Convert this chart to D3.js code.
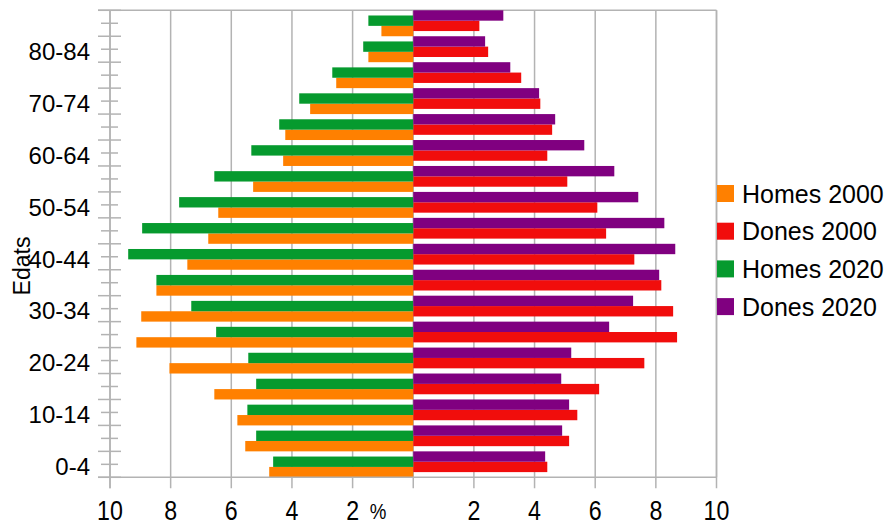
<!DOCTYPE html>
<html>
<head>
<meta charset="utf-8">
<script src="https://cdn.jsdelivr.net/npm/d3@7"></script>
<style>
  html, body { margin: 0; padding: 0; background: #fff; }
  svg { display: block; font-family: "Liberation Sans", Arial, sans-serif; }
</style>
</head>
<body>
<svg id="chart" width="888" height="526"></svg>
<script>
// Age groups, youngest first
const ageGroups = ["0-4","5-9","10-14","15-19","20-24","25-29","30-34","35-39","40-44",
                   "45-49","50-54","55-59","60-64","65-69","70-74","75-79","80-84","85+"];

// Share of population (%) per age group
const homes2000 = [4.75,5.54,5.80,6.56,8.04,9.13,8.97,8.47,7.45,6.76,6.43,5.28,4.29,4.22,3.40,2.54,1.48,1.05];
const dones2000 = [4.42,5.14,5.41,6.13,7.62,8.70,8.57,8.18,7.29,6.36,6.07,5.08,4.42,4.58,4.19,3.56,2.47,2.18];
const homes2020 = [4.62,5.18,5.47,5.18,5.44,6.50,7.32,8.47,9.40,8.94,7.72,6.56,5.34,4.42,3.76,2.67,1.65,1.48];
const dones2020 = [4.35,4.91,5.14,4.88,5.21,6.46,7.25,8.11,8.64,8.28,7.42,6.63,5.64,4.68,4.15,3.20,2.37,2.97];

const xTicks = [-10,-8,-6,-4,-2,0,2,4,6,8,10];
const labeledGroups = ["0-4","10-14","20-24","30-34","40-44","50-54","60-64","70-74","80-84"];

// Series: sign puts men on the left; slot is the offset (in fifths of a band) from the band top
const series = [
  { name: "Homes 2000", values: homes2000, sign: -1, slot: 3, color: "#ff8000" },
  { name: "Dones 2000", values: dones2000, sign:  1, slot: 2, color: "#f10d0c" },
  { name: "Homes 2020", values: homes2020, sign: -1, slot: 1, color: "#069a2e" },
  { name: "Dones 2020", values: dones2020, sign:  1, slot: 0, color: "#800080" }
];

const svg = d3.select("#chart");
const plotLeft = 110, plotRight = 716.5, plotTop = 10.3, plotBottom = 477.3;
const gridColor = "#b3b3b3";

const x = d3.scaleLinear().domain([-10, 10]).range([plotLeft, plotRight]);
const y = d3.scaleBand().domain(ageGroups.slice().reverse()).range([plotTop, plotBottom]).padding(0);
const bw = y.bandwidth();
const sub = bw / 5;

// vertical grid lines, extended down as tick marks
svg.append("g").selectAll("line").data(xTicks).join("line")
  .attr("x1", d => x(d)).attr("x2", d => x(d))
  .attr("y1", plotTop).attr("y2", plotBottom + 11)
  .attr("stroke", gridColor).attr("stroke-width", 1.5);

// frame: top and right
svg.append("line").attr("x1", plotLeft - 12).attr("x2", plotRight).attr("y1", plotTop).attr("y2", plotTop)
  .attr("stroke", gridColor).attr("stroke-width", 1.5);
svg.append("line").attr("x1", plotRight).attr("x2", plotRight).attr("y1", plotTop).attr("y2", plotBottom)
  .attr("stroke", gridColor).attr("stroke-width", 1.5);

// bars
series.forEach(s => {
  svg.append("g").selectAll("rect").data(s.values).join("rect")
    .attr("x", d => s.sign < 0 ? x(-d) : x(0))
    .attr("width", d => Math.abs(x(d) - x(0)))
    .attr("y", (d, i) => y(ageGroups[i]) + s.slot * sub)
    .attr("height", 2 * sub)
    .attr("fill", s.color);
});

// y axis line and ticks (long at band edges, short at band centres)
const edges = ageGroups.map(g => y(g)).concat([y(ageGroups[0]) + bw]);
svg.append("g").selectAll("line").data(edges).join("line")
  .attr("x1", plotLeft - 12).attr("x2", plotLeft + 11)
  .attr("y1", d => d).attr("y2", d => d)
  .attr("stroke", gridColor).attr("stroke-width", 1.5);
svg.append("g").selectAll("line").data(ageGroups).join("line")
  .attr("x1", plotLeft - 9).attr("x2", plotLeft + 8)
  .attr("y1", d => y(d) + bw / 2).attr("y2", d => y(d) + bw / 2)
  .attr("stroke", gridColor).attr("stroke-width", 1.5);
svg.append("line").attr("x1", plotLeft).attr("x2", plotLeft).attr("y1", plotTop).attr("y2", plotBottom + 11)
  .attr("stroke", gridColor).attr("stroke-width", 1.5);
svg.append("line").attr("x1", plotLeft - 12).attr("x2", plotRight).attr("y1", plotBottom).attr("y2", plotBottom)
  .attr("stroke", gridColor).attr("stroke-width", 1.5);

// y tick labels
svg.append("g").selectAll("text").data(labeledGroups).join("text")
  .attr("x", 90).attr("y", d => y(d) + bw / 2)
  .attr("dy", "0.45em")
  .attr("text-anchor", "end")
  .attr("font-size", 24)
  .attr("fill", "#000")
  .text(d => d);

// x tick labels (absolute values, zero left blank)
svg.append("g").selectAll("text").data(xTicks.filter(d => d !== 0)).join("text")
  .attr("transform", d => `translate(${x(d)},520) scale(0.86,1)`)
  .attr("text-anchor", "middle")
  .attr("font-size", 27)
  .attr("fill", "#000")
  .text(d => Math.abs(d));

svg.append("text")
  .attr("transform", "translate(378,519) scale(0.85,1)")
  .attr("text-anchor", "middle")
  .attr("font-size", 22)
  .text("%");

// axis title
svg.append("text")
  .attr("transform", "translate(30,266) rotate(-90)")
  .attr("text-anchor", "middle")
  .attr("font-size", 23)
  .text("Edats");

// legend
const legend = svg.append("g");
series.forEach((s, i) => {
  const cy = 193.5 + i * 37.7;
  legend.append("rect").attr("x", 717).attr("y", cy - 8.5).attr("width", 17).attr("height", 17)
    .attr("fill", s.color);
  legend.append("text").attr("x", 742).attr("y", cy).attr("dy", "0.36em")
    .attr("font-size", 25).text(s.name);
});
</script>
</body>
</html>
